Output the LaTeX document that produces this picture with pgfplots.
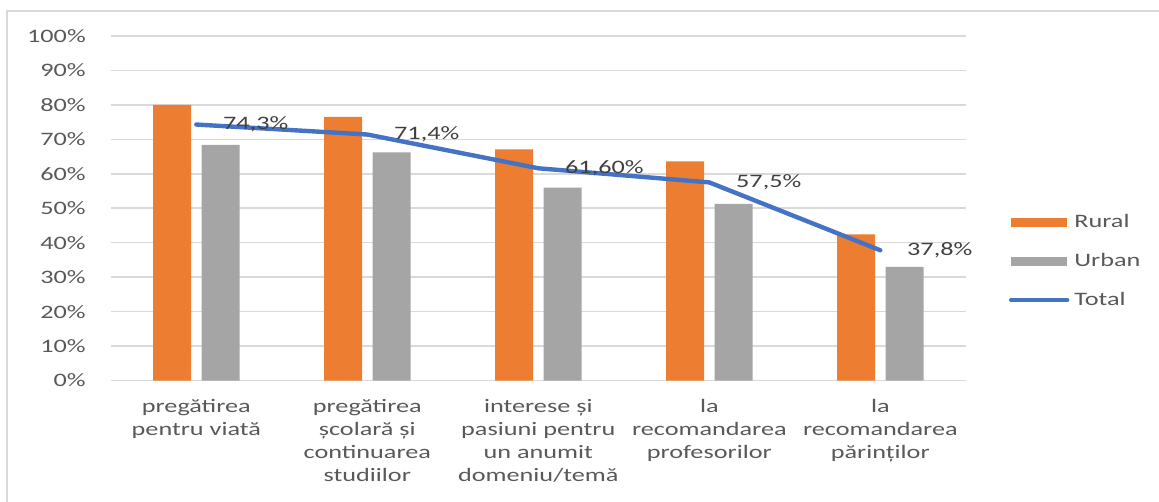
\documentclass[border=0pt]{standalone}
\usepackage{fontspec}
\setmainfont{Carlito}[FakeStretch=1.38]
\usepackage{pgfplots}
\pgfplotsset{compat=1.18}
\definecolor{rural}{HTML}{ED7D31}
\definecolor{urban}{HTML}{A5A5A5}
\definecolor{total}{HTML}{4472C4}
\definecolor{gridc}{HTML}{D9D9D9}
\definecolor{ticktxt}{HTML}{595959}
\definecolor{lbltxt}{HTML}{404040}

\begin{document}
\begin{tikzpicture}[font=\fontsize{9.5}{11.5}\selectfont]
% 1 px of the reference = 0.5pt; origin = bottom left of the plot area
\path[use as bounding box] (-55.4pt,-60.75pt) rectangle (524.1pt,190.25pt);
\draw[gridc, line width=1pt] (-51.9pt,-60.75pt) -- (-51.9pt,184.75pt) -- (524.1pt,184.75pt);
\begin{axis}[
  at={(0pt,0pt)}, anchor=south west,
  scale only axis,
  width=427.5pt, height=172.25pt,
  xmin=-0.5, xmax=4.5,
  ymin=0, ymax=100,
  axis line style={draw=none},
  major tick length=0pt,
  ytick={0,10,...,100},
  ymajorgrids=true,
  grid style={gridc, line width=0.75pt},
  /pgf/number format/assume math mode=true,
  yticklabel={\pgfmathprintnumber{\tick}\%},
  yticklabel style={text=ticktxt, xshift=-9pt},
  xtick={0,...,4},
  xticklabels={{pregătirea\\pentru viată},
               {pregătirea\\școlară și\\continuarea\\studiilor},
               {interese și\\pasiuni pentru\\un anumit\\domeniu/temă},
               {la\\recomandarea\\profesorilor},
               {la\\recomandarea\\părinților}},
  xticklabel style={align=center, text=ticktxt, anchor=north, yshift=-6pt},
  legend style={draw=none, fill=none, at={(1.050,0.346)}, anchor=west,
    inner sep=0pt, row sep=9.3pt, text=ticktxt, nodes={inner sep=1pt},
    /tikz/every odd column/.style={column sep=1.5pt}},
  legend cell align=left,
  clip=false,
]
\addplot[ybar, bar width=19pt, bar shift=-12.1pt, fill=rural, draw=none,
  legend image code/.code={\fill[rural] (0pt,-2.3pt) rectangle (28pt,2.3pt);}]
  coordinates {(0,80.0) (1,76.5) (2,67.1) (3,63.6) (4,42.4)};
\addlegendentry{Rural}
\addplot[ybar, bar width=19pt, bar shift=12.1pt, fill=urban, draw=none,
  legend image code/.code={\fill[urban] (0pt,-2.3pt) rectangle (28pt,2.3pt);}]
  coordinates {(0,68.4) (1,66.2) (2,56.0) (3,51.3) (4,33.0)};
\addlegendentry{Urban}
\addplot[total, line width=2.2pt, line join=round, line cap=round, mark=none,
  legend image code/.code={\draw[total, line width=2.2pt, line cap=round] (0pt,0pt) -- (28pt,0pt);},
  nodes near coords, point meta=explicit symbolic,
  nodes near coords style={anchor=west, xshift=9pt, text=lbltxt}]
  coordinates {(0,74.3) [74,3\%] (1,71.4) [71,4\%] (2,61.6) [61,60\%]
               (3,57.5) [57,5\%] (4,37.8) [37,8\%]};
\addlegendentry{Total}
\end{axis}
\end{tikzpicture}
\end{document}
